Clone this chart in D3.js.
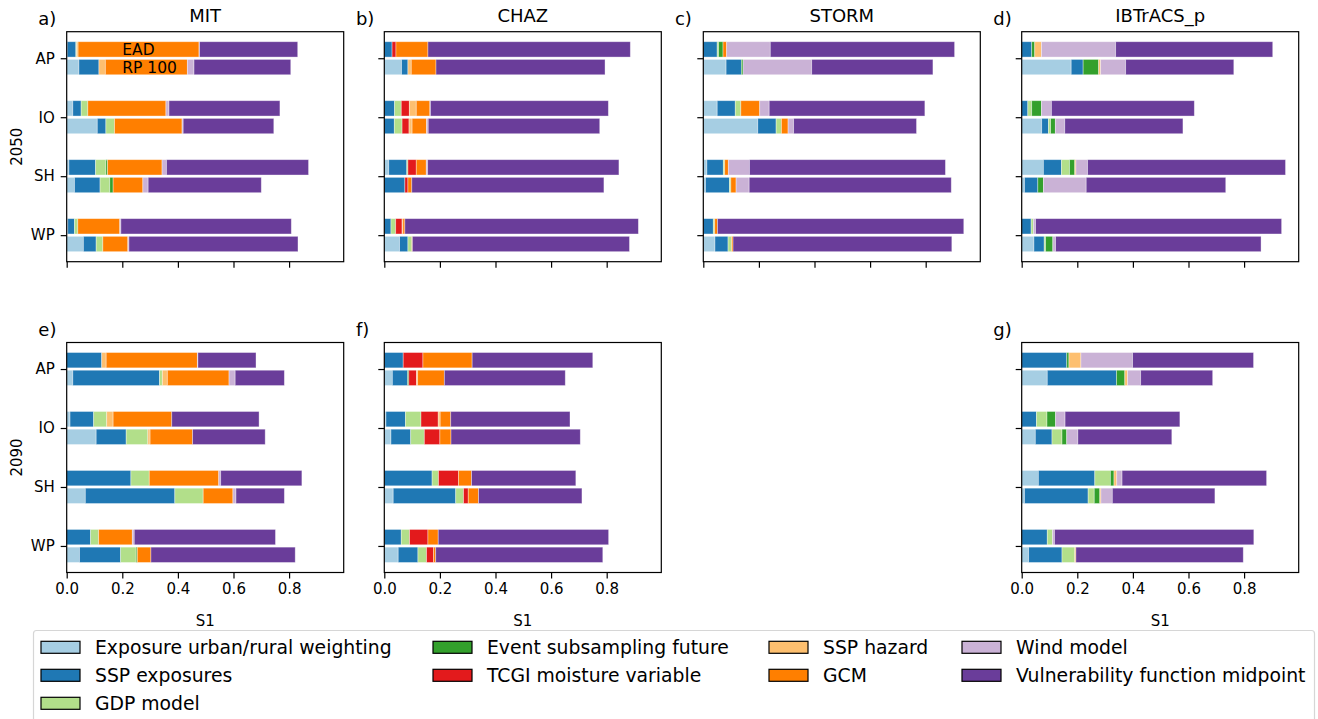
<!DOCTYPE html>
<html>
<head>
<meta charset="utf-8">
<script src="https://cdn.jsdelivr.net/npm/d3@7"></script>
<style>
  html, body { margin: 0; padding: 0; background: #fff; }
  svg { display: block; font-family: "DejaVu Sans", sans-serif; }
</style>
</head>
<body>
<svg id="chart" width="1318" height="719"></svg>
<script>
// Sources of uncertainty, in stacking order, with their fill colours
const components = [
  "Exposure urban/rural weighting", "SSP exposures", "GDP model",
  "Event subsampling future", "TCGI moisture variable",
  "SSP hazard", "GCM", "Wind model", "Vulnerability function midpoint"
];
const componentColors = [
  "#a6cee3", "#1f78b4", "#b2df8a", "#33a02c", "#e31a1c",
  "#fdbf6f", "#ff7f00", "#cab2d6", "#6a3d9a"
];
const regions = ["AP", "IO", "SH", "WP"];
const metrics = ["EAD", "RP 100"];
const xTicks = [0, 0.2, 0.4, 0.6, 0.8];

// First-order sensitivity indices (S1) per region; one row per region,
// one column per component (same order as `components`).
const mit2050Ead = [
  [0.002, 0.031, 0.003, 0, 0, 0.005, 0.435, 0.002, 0.353],
  [0.022, 0.030, 0.024, 0, 0, 0, 0.281, 0.011, 0.399],
  [0.008, 0.096, 0.037, 0.006, 0, 0, 0.196, 0.016, 0.511],
  [0.004, 0.024, 0.012, 0, 0, 0, 0.151, 0.004, 0.613]
];
const mit2050Rp100 = [
  [0.044, 0.072, 0, 0, 0, 0.023, 0.295, 0.024, 0.348],
  [0.110, 0.031, 0.031, 0, 0, 0, 0.243, 0.004, 0.326],
  [0.028, 0.092, 0.035, 0.012, 0, 0, 0.107, 0.019, 0.407],
  [0.060, 0.046, 0.024, 0, 0, 0, 0.090, 0.004, 0.608]
];
const chaz2050Ead = [
  [0, 0.028, 0, 0, 0.014, 0, 0.115, 0, 0.728],
  [0, 0.037, 0.024, 0, 0.029, 0.025, 0.049, 0.002, 0.640],
  [0.016, 0.065, 0.004, 0, 0.030, 0, 0.036, 0.005, 0.688],
  [0, 0.024, 0.017, 0, 0.023, 0.003, 0.007, 0, 0.840]
];
const chaz2050Rp100 = [
  [0.062, 0.023, 0, 0, 0, 0.012, 0.089, 0, 0.608],
  [0, 0.036, 0.028, 0, 0.025, 0.011, 0.052, 0.006, 0.617],
  [0, 0.074, 0, 0, 0.011, 0, 0.014, 0, 0.691],
  [0.055, 0.030, 0.014, 0, 0, 0, 0.002, 0, 0.781]
];
const storm2050Ead = [
  [0, 0.050, 0.005, 0.016, 0, 0, 0.013, 0.157, 0.663],
  [0.050, 0.065, 0.020, 0, 0, 0, 0.068, 0.034, 0.560],
  [0.013, 0.059, 0.005, 0, 0, 0, 0.013, 0.076, 0.705],
  [0, 0.036, 0.005, 0, 0, 0, 0.010, 0, 0.886]
];
const storm2050Rp100 = [
  [0.082, 0.055, 0, 0.006, 0, 0, 0, 0.247, 0.436],
  [0.196, 0.066, 0.019, 0, 0, 0, 0.024, 0.020, 0.442],
  [0.008, 0.086, 0.005, 0, 0, 0, 0.019, 0.047, 0.727],
  [0.042, 0.047, 0.013, 0, 0, 0, 0.005, 0, 0.787]
];
const ibtracs2050Ead = [
  [0, 0.036, 0, 0.011, 0, 0.024, 0, 0.267, 0.565],
  [0, 0.022, 0.014, 0.035, 0, 0, 0, 0.036, 0.514],
  [0.078, 0.065, 0.029, 0.019, 0, 0.004, 0, 0.042, 0.712],
  [0, 0.034, 0.008, 0, 0, 0, 0, 0.008, 0.885]
];
const ibtracs2050Rp100 = [
  [0.178, 0.043, 0, 0.056, 0, 0.007, 0, 0.090, 0.389],
  [0.072, 0.024, 0.008, 0.017, 0, 0, 0, 0.034, 0.425],
  [0.010, 0.048, 0, 0.020, 0, 0, 0, 0.154, 0.502],
  [0.044, 0.037, 0.005, 0.026, 0, 0, 0, 0.010, 0.739]
];
const mit2090Ead = [
  [0, 0.126, 0, 0, 0, 0.016, 0.328, 0.002, 0.209],
  [0.012, 0.085, 0.047, 0, 0, 0.023, 0.211, 0, 0.314],
  [0, 0.231, 0.066, 0, 0, 0, 0.250, 0.007, 0.292],
  [0, 0.086, 0.029, 0, 0, 0, 0.121, 0.007, 0.508]
];
const mit2090Rp100 = [
  [0.022, 0.312, 0.010, 0, 0, 0.018, 0.222, 0.022, 0.177],
  [0.106, 0.108, 0.078, 0, 0, 0.008, 0.153, 0, 0.261],
  [0.067, 0.322, 0.102, 0, 0, 0, 0.107, 0.011, 0.174],
  [0.046, 0.148, 0.056, 0.004, 0, 0, 0.049, 0, 0.519]
];
const chaz2090Ead = [
  [0, 0.068, 0, 0, 0.071, 0, 0.177, 0, 0.434],
  [0.006, 0.070, 0.056, 0, 0.062, 0.007, 0.038, 0, 0.429],
  [0, 0.172, 0.023, 0, 0.072, 0, 0.047, 0, 0.375],
  [0, 0.061, 0.030, 0, 0.066, 0, 0.037, 0, 0.613]
];
const chaz2090Rp100 = [
  [0.029, 0.055, 0, 0.004, 0.028, 0.004, 0.096, 0, 0.435],
  [0.024, 0.071, 0.049, 0, 0.056, 0, 0.040, 0, 0.465],
  [0.032, 0.225, 0.028, 0, 0.017, 0, 0.037, 0, 0.372],
  [0.050, 0.071, 0.031, 0, 0.025, 0, 0.008, 0, 0.601]
];
const ibtracs2090Ead = [
  [0, 0.162, 0, 0.008, 0, 0.043, 0, 0.186, 0.435],
  [0, 0.053, 0.038, 0.031, 0, 0, 0, 0.034, 0.413],
  [0.060, 0.203, 0.056, 0.013, 0, 0.010, 0, 0.019, 0.520],
  [0, 0.092, 0.019, 0, 0, 0, 0, 0.007, 0.717]
];
const ibtracs2090Rp100 = [
  [0.092, 0.249, 0, 0.030, 0, 0.010, 0, 0.047, 0.259],
  [0.049, 0.060, 0.036, 0.017, 0, 0, 0, 0.040, 0.338],
  [0.010, 0.229, 0.022, 0.020, 0, 0.004, 0, 0.041, 0.369],
  [0.025, 0.120, 0.046, 0, 0, 0.004, 0, 0, 0.602]
];

// Panel grid: row = time horizon, col = hazard model
const panels = [
  { tag: "a)", title: "MIT",       row: 0, col: 0, ead: mit2050Ead,       rp: mit2050Rp100 },
  { tag: "b)", title: "CHAZ",      row: 0, col: 1, ead: chaz2050Ead,      rp: chaz2050Rp100 },
  { tag: "c)", title: "STORM",     row: 0, col: 2, ead: storm2050Ead,     rp: storm2050Rp100 },
  { tag: "d)", title: "IBTrACS_p", row: 0, col: 3, ead: ibtracs2050Ead,   rp: ibtracs2050Rp100 },
  { tag: "e)", title: "",          row: 1, col: 0, ead: mit2090Ead,       rp: mit2090Rp100 },
  { tag: "f)", title: "",          row: 1, col: 1, ead: chaz2090Ead,      rp: chaz2090Rp100 },
  { tag: "g)", title: "",          row: 1, col: 3, ead: ibtracs2090Ead,   rp: ibtracs2090Rp100 }
];
const rowLabels = ["2050", "2090"];

// ---- layout ----
const colLeft = [66.7, 384.3, 703.3, 1021.7];
const rowTop = [31.7, 342.5];
const axW = 277, axH = 230;
const tickLen = 6;
const axisStroke = 1.2;

const svg = d3.select("#chart");
svg.append("rect").attr("width", 1318).attr("height", 719).attr("fill", "#fff");

// shared x-limit: largest bar total plus a 5% margin
const allBars = panels.flatMap(p => [...p.ead, ...p.rp]);
const xMax = d3.max(allBars, r => d3.sum(r)) * 1.05;

const x = d3.scaleLinear().domain([0, xMax]);
const y = d3.scaleLinear().domain([-0.45, regions.length - 1 + 0.45]);
const barOffset = 0.15, barHeight = 0.26;

panels.forEach(p => {
  const left = colLeft[p.col], top = rowTop[p.row];
  const xs = x.copy().range([0, axW]);
  const ys = y.copy().range([0, axH]);
  const g = svg.append("g").attr("transform", `translate(${left},${top})`);

  // stacked bars: EAD above, RP 100 below each region tick
  [p.ead, p.rp].forEach((table, mi) => {
    const off = mi === 0 ? -barOffset : barOffset;
    table.forEach((vals, ri) => {
      let acc = 0;
      const segs = vals.map((v, ci) => {
        const s = { x0: acc, x1: acc + v, ci };
        acc += v;
        return s;
      }).filter(s => s.x1 > s.x0);
      g.selectAll(null)
        .data(segs)
        .enter().append("rect")
        .attr("x", s => xs(s.x0))
        .attr("width", s => xs(s.x1) - xs(s.x0))
        .attr("y", ys(ri + off - barHeight / 2))
        .attr("height", ys(barHeight) - ys(0))
        .attr("fill", s => componentColors[s.ci])
        .attr("stroke", "#fff")
        .attr("stroke-opacity", 0.45)
        .attr("stroke-width", 0.8);
    });
  });

  // metric labels inside the first panel
  if (p.tag === "a)") {
    metrics.forEach((m, mi) => {
      g.append("text")
        .attr("x", xs(0.2))
        .attr("y", ys(0 + (mi === 0 ? -barOffset : barOffset)))
        .attr("dy", "0.36em")
        .attr("font-size", 15.5)
        .attr("fill", "#000")
        .text(m);
    });
  }

  // frame
  g.append("rect")
    .attr("width", axW).attr("height", axH)
    .attr("fill", "none").attr("stroke", "#000").attr("stroke-width", axisStroke);

  // x axis
  const xAxis = d3.axisBottom(xs).tickValues(xTicks).tickSize(tickLen).tickPadding(5)
    .tickFormat(p.row === 1 ? d3.format(".1f") : () => "");
  const xg = g.append("g").attr("transform", `translate(0,${axH})`).call(xAxis);
  xg.select(".domain").remove();
  xg.selectAll(".tick line").attr("stroke", "#000").attr("stroke-width", axisStroke);
  xg.selectAll(".tick text").attr("font-size", 15).attr("fill", "#000")
    .attr("font-family", "DejaVu Sans");
  if (p.row === 1) {
    g.append("text").attr("x", axW / 2).attr("y", axH + 53)
      .attr("text-anchor", "middle").attr("font-size", 15).text("S1");
  }

  // y axis
  const yBand = d3.scalePoint().domain(regions).range([ys(0), ys(regions.length - 1)]);
  const yAxis = d3.axisLeft(yBand).tickSize(tickLen).tickPadding(6)
    .tickFormat(p.col === 0 ? (d => d) : () => "");
  const yg = g.append("g").call(yAxis);
  yg.select(".domain").remove();
  yg.selectAll(".tick line").attr("stroke", "#000").attr("stroke-width", axisStroke);
  yg.selectAll(".tick text").attr("font-size", 15).attr("fill", "#000")
    .attr("font-family", "DejaVu Sans");

  // titles and panel letters
  if (p.title) {
    g.append("text").attr("x", axW / 2).attr("y", -10)
      .attr("text-anchor", "middle").attr("font-size", 18).text(p.title);
  }
  g.append("text").attr("x", -28.4).attr("y", -6.3)
    .attr("font-size", 18).text(p.tag);
});

// row labels
rowLabels.forEach((lab, i) => {
  svg.append("text")
    .attr("transform", `translate(21.5,${rowTop[i] + axH / 2}) rotate(-90)`)
    .attr("text-anchor", "middle").attr("font-size", 15).text(lab);
});

// legend
const legend = svg.append("g");
legend.append("rect")
  .attr("x", 33.5).attr("y", 630.5).attr("width", 1281).attr("height", 110)
  .attr("rx", 3).attr("fill", "#fff").attr("stroke", "#d6d6d6").attr("stroke-width", 1.2);
const legendCols = [41, 433, 769, 962];
const perCol = [3, 2, 2, 2];
let k = 0;
perCol.forEach((n, c) => {
  for (let r = 0; r < n; r++, k++) {
    const cy = 647.3 + r * 28;
    legend.append("rect")
      .attr("x", legendCols[c]).attr("y", cy - 6)
      .attr("width", 39).attr("height", 12)
      .attr("fill", componentColors[k]).attr("stroke", "#000").attr("stroke-width", 1.2);
    legend.append("text")
      .attr("x", legendCols[c] + 54).attr("y", cy).attr("dy", "0.36em")
      .attr("font-size", 18.8).text(components[k]);
  }
});
</script>
</body>
</html>
